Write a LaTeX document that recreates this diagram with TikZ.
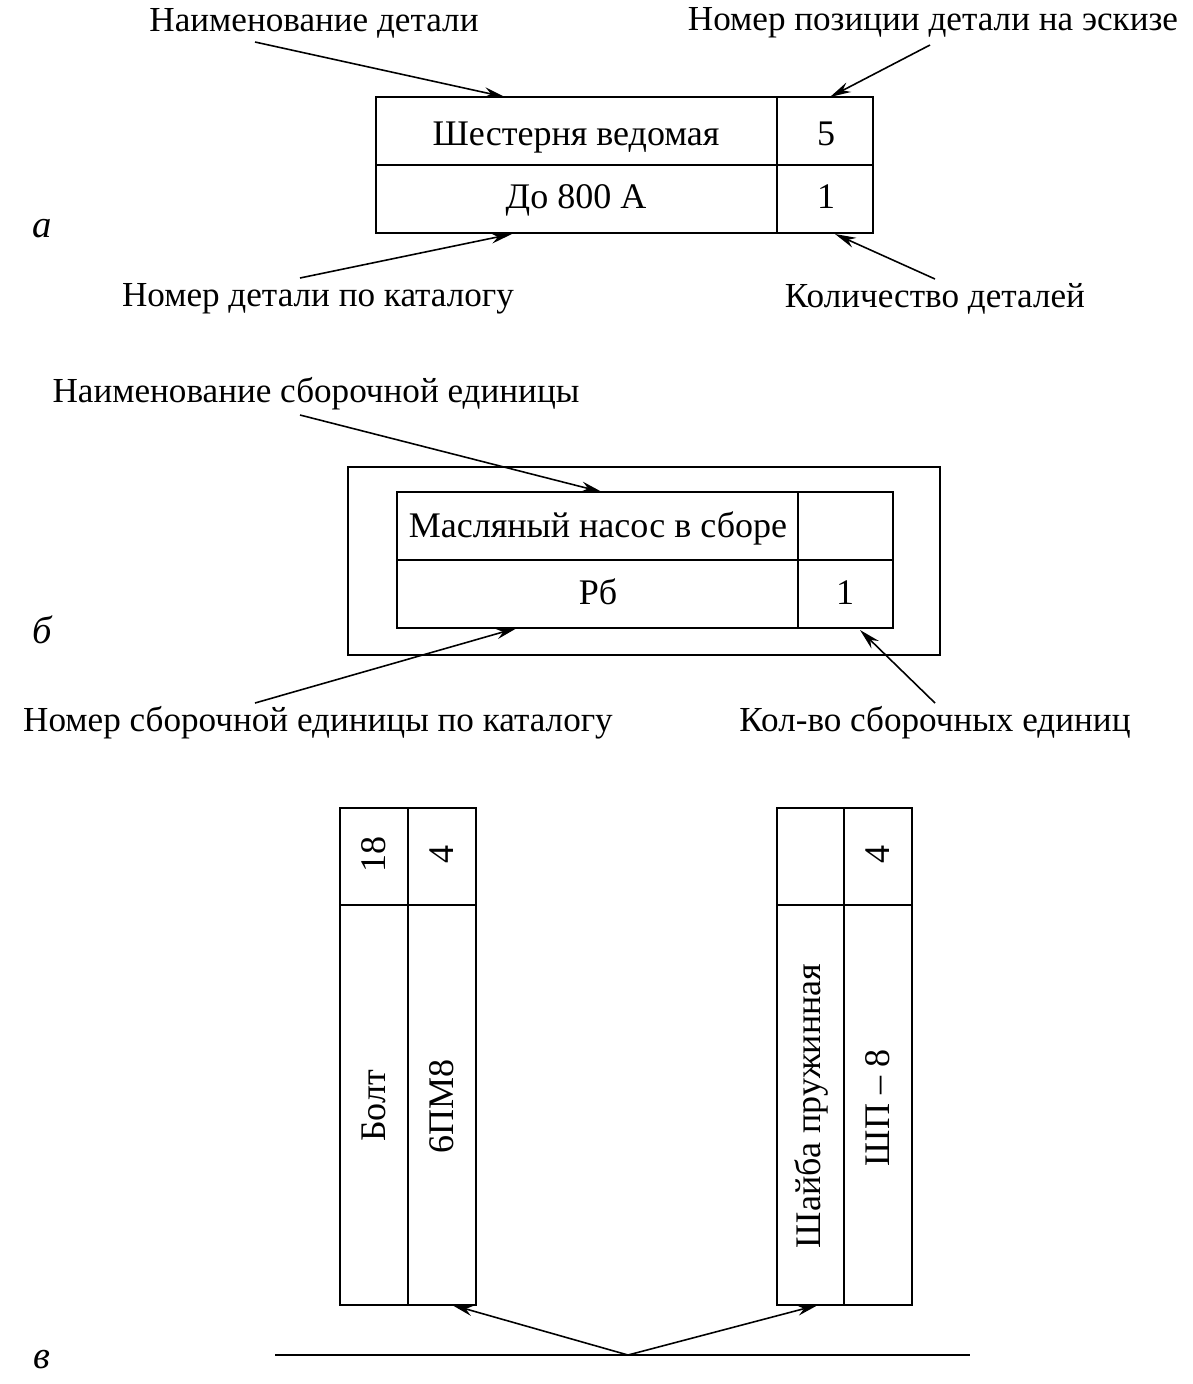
\documentclass[tikz,border=0pt]{standalone}
\usepackage{fontspec}
\setmainfont{Liberation Serif}
\usetikzlibrary{arrows.meta}

\begin{document}
\begin{tikzpicture}[x=0.02cm,y=-0.02cm,line width=1.1pt,
    lbl/.style={font=\fontsize{20}{24}\selectfont,inner sep=0pt},
    cell/.style={font=\fontsize{20.5}{24}\selectfont,inner sep=0pt,anchor=base},
    vcell/.style={font=\fontsize{20.5}{24}\selectfont,rotate=90,inner sep=0pt},
    sect/.style={font=\fontsize{22}{26}\selectfont\itshape,inner sep=0pt},
    ptr/.style={-{Stealth[length=12pt,width=6pt]},line width=0.9pt}]
\useasboundingbox (0,0) rectangle (1193,1384);

% --- а: деталь ---
\draw (376,97) rectangle (873,233);
\draw (376,165) -- (873,165);
\draw (777,97) -- (777,233);
\node[cell] (nameA) at (576,145) {Шестерня ведомая};
\node[cell] (posA)  at (826,145) {5};
\node[cell] (catA)  at (576,208) {До 800 А};
\node[cell] (qtyA)  at (826,208) {1};
\node[sect] (secA)  at (42,229) {а};
% подписи
\node[lbl] (lblNameA) at (314,23)  {Наименование детали};
\node[lbl] (lblPosA)  at (933,23)  {Номер позиции детали на эскизе};
\node[lbl] (lblCatA)  at (318,299) {Номер детали по каталогу};
\node[lbl] (lblQtyA)  at (935,299) {Количество деталей};
% стрелки
\coordinate (sNameA) at (255,42);  \coordinate (eNameA) at (505,97);
\coordinate (sPosA)  at (930,45);  \coordinate (ePosA)  at (830,97);
\coordinate (sCatA)  at (300,278); \coordinate (eCatA)  at (512,234);
\coordinate (sQtyA)  at (935,279); \coordinate (eQtyA)  at (835,234);
\draw[ptr] (sNameA) -- (eNameA);
\draw[ptr] (sPosA) -- (ePosA);
\draw[ptr] (sCatA) -- (eCatA);
\draw[ptr] (sQtyA) -- (eQtyA);

% --- б: сборочная единица ---
\draw (348,467) rectangle (940,655);
\draw (397,492) rectangle (893,628);
\draw (397,560) -- (893,560);
\draw (798,492) -- (798,628);
\node[cell] (nameB) at (598,537) {Масляный насос в сборе};
\node[cell] (catB)  at (598,604) {Рб};
\node[cell] (qtyB)  at (845,604) {1};
\node[sect] (secB)  at (42,630)  {б};
% подписи
\node[lbl] (lblNameB) at (316,394) {Наименование сборочной единицы};
\node[lbl] (lblCatB)  at (318,723) {Номер сборочной единицы по каталогу};
\node[lbl] (lblQtyB)  at (935,723) {Кол-во сборочных единиц};
% стрелки
\coordinate (sNameB) at (300,415); \coordinate (eNameB) at (602,492);
\coordinate (sCatB)  at (255,703); \coordinate (eCatB)  at (517,628);
\coordinate (sQtyB)  at (935,703); \coordinate (eQtyB)  at (860,630);
\draw[ptr] (sNameB) -- (eNameB);
\draw[ptr] (sCatB) -- (eCatB);
\draw[ptr] (sQtyB) -- (eQtyB);

% --- в: вертикальные таблички ---
\draw (340,808) rectangle (476,1305);
\draw (408,808) -- (408,1305);
\draw (340,905) -- (476,905);
\draw (777,808) rectangle (912,1305);
\draw (844,808) -- (844,1305);
\draw (777,905) -- (912,905);
\node[vcell] (posC1)  at (374,854)  {18};
\node[vcell] (qtyC1)  at (442,854)  {4};
\node[vcell] (nameC1) at (374,1106) {Болт};
\node[vcell] (catC1)  at (442,1106) {6ПМ8};
\node[vcell] (qtyC2)  at (878,854)  {4};
\node[vcell] (nameC2) at (811,1106) {Шайба пружинная};
\node[vcell] (catC2)  at (878,1108) {ШП – 8};
\node[sect] (secC)  at (42,1360) {в};
% линия-выноска
\coordinate (lineL) at (275,1355);
\coordinate (lineR) at (970,1355);
\coordinate (apex)  at (628,1355);
\coordinate (eC1)   at (452,1305);
\coordinate (eC2)   at (818,1305);
\draw (lineL) -- (lineR);
\draw[ptr] (apex) -- (eC1);
\draw[ptr] (apex) -- (eC2);
\end{tikzpicture}
\end{document}
